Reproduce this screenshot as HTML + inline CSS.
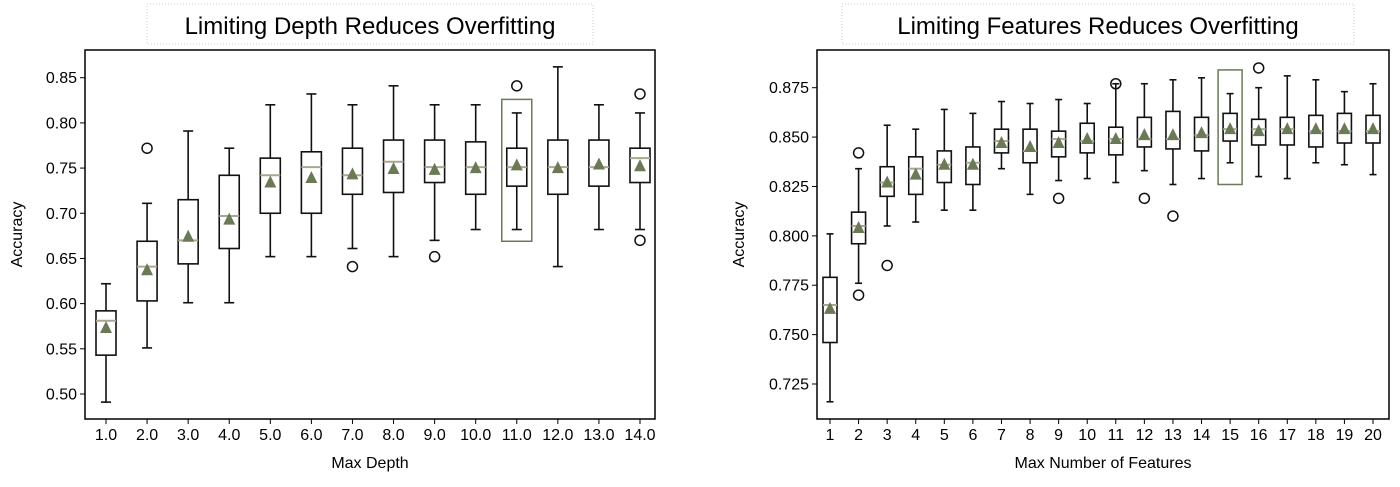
<!DOCTYPE html>
<html><head><meta charset="utf-8"><style>
body{margin:0;background:#fff;width:1400px;height:482px;overflow:hidden;font-family:"Liberation Sans",sans-serif}
svg text{font-family:"Liberation Sans",sans-serif;fill:#000}
</style></head><body>
<svg id="chart" width="1400" height="482" viewBox="0 0 1400 482" xmlns="http://www.w3.org/2000/svg"></svg>
<script>
// Left chart data: [whiskerHigh, q3, median, q1, whiskerLow]
const depthCategories=["1.0","2.0","3.0","4.0","5.0","6.0","7.0","8.0","9.0","10.0","11.0","12.0","13.0","14.0"];
const depthStats=[[0.622,0.592,0.581,0.543,0.491],[0.711,0.669,0.641,0.603,0.551],[0.791,0.715,0.670,0.644,0.601],[0.772,0.742,0.697,0.661,0.601],[0.820,0.761,0.742,0.700,0.652],[0.832,0.768,0.751,0.700,0.652],[0.820,0.772,0.742,0.721,0.661],[0.841,0.781,0.757,0.723,0.652],[0.820,0.781,0.751,0.734,0.670],[0.820,0.779,0.751,0.721,0.682],[0.811,0.772,0.751,0.730,0.682],[0.862,0.781,0.751,0.721,0.641],[0.820,0.781,0.751,0.730,0.682],[0.811,0.772,0.761,0.734,0.682]];
const depthMeans=[0.573,0.637,0.674,0.693,0.734,0.739,0.743,0.749,0.748,0.750,0.753,0.750,0.754,0.752];
const depthOutliers=[[],[0.772],[],[],[],[],[0.641],[],[0.652],[],[0.841],[],[],[0.832,0.670]];
const depthTicks=[0.50,0.55,0.60,0.65,0.70,0.75,0.80,0.85];
const depthBest=10; const depthBestRange=[0.826,0.669];
// Right chart data
const featCategories=["1","2","3","4","5","6","7","8","9","10","11","12","13","14","15","16","17","18","19","20"];
const featStats=[[0.801,0.779,0.765,0.746,0.716],[0.834,0.812,0.805,0.796,0.776],[0.856,0.835,0.827,0.820,0.805],[0.854,0.840,0.834,0.821,0.807],[0.864,0.843,0.836,0.827,0.813],[0.862,0.845,0.837,0.826,0.813],[0.868,0.854,0.848,0.842,0.834],[0.867,0.854,0.843,0.837,0.821],[0.869,0.853,0.849,0.840,0.828],[0.867,0.857,0.848,0.842,0.829],[0.877,0.855,0.849,0.841,0.827],[0.877,0.860,0.849,0.845,0.833],[0.879,0.863,0.849,0.844,0.826],[0.880,0.860,0.851,0.843,0.829],[0.872,0.862,0.854,0.848,0.837],[0.875,0.859,0.854,0.846,0.830],[0.881,0.860,0.854,0.846,0.829],[0.879,0.861,0.853,0.845,0.837],[0.873,0.862,0.853,0.847,0.836],[0.877,0.861,0.853,0.847,0.831]];
const featMeans=[0.763,0.804,0.827,0.831,0.836,0.836,0.847,0.845,0.847,0.849,0.849,0.851,0.851,0.852,0.854,0.853,0.854,0.854,0.854,0.854];
const featOutliers=[[],[0.842,0.770],[0.785],[],[],[],[],[],[0.819],[],[0.877],[0.819],[0.810],[],[],[0.885],[],[],[],[]];
const featTicks=[0.725,0.750,0.775,0.800,0.825,0.850,0.875];
const featBest=14; const featBestRange=[0.884,0.826];

const NS="http://www.w3.org/2000/svg";
const svg=document.getElementById('chart');
function mk(tag,attrs,parent,text){const e=document.createElementNS(NS,tag);for(const k in attrs)e.setAttribute(k,attrs[k]);if(text!==undefined)e.textContent=text;(parent||svg).appendChild(e);return e;}

function drawPanel(cfg){
  const g=mk('g',{});
  
  
  const n=cfg.cats.length;
  const xs=i=>cfg.x0+(cfg.x1-cfg.x0)*i/(n-1);
  const ys=v=>cfg.yA+(v-cfg.vA)*(cfg.yB-cfg.yA)/(cfg.vB-cfg.vA);
  const tb=mk('rect',{x:cfg.cx-cfg.tw/2,y:4,width:cfg.tw,height:40,fill:'none',stroke:'#ccc','stroke-dasharray':'1,2'},g);
  
  
  const t=mk('text',{x:cfg.cx,y:34,'text-anchor':'middle','font-size':'24'},g,cfg.title);
  
  
  const fr=mk('rect',{x:cfg.fx0,y:cfg.fy0,width:cfg.fx1-cfg.fx0,height:cfg.fy1-cfg.fy0,fill:'none',stroke:'#000','stroke-width':1.5},g);
  
  
  cfg.ticks.forEach(v=>{
    const y=ys(v);
    mk('line',{x1:cfg.fx0-5,x2:cfg.fx0,y1:y,y2:y,stroke:'#000'},g);
    const tl=mk('text',{x:cfg.fx0-8,y:y+5.5,'text-anchor':'end','font-size':'16'},g,v.toFixed(cfg.dec));
    
    
  });
  const yl=mk('text',{x:0,y:0,'text-anchor':'middle','font-size':'16',transform:`translate(${cfg.ylx},${(cfg.fy0+cfg.fy1)/2}) rotate(-90)`},g,'Accuracy');
  
  
  const xl=mk('text',{x:(cfg.fx0+cfg.fx1)/2,y:468,'text-anchor':'middle','font-size':'16'},g,cfg.xlabel);
  
  
  const hx=xs(cfg.best);
  const hr=mk('rect',{x:hx-cfg.bw/2-5,y:ys(cfg.bestRange[0]),width:cfg.bw+10,height:ys(cfg.bestRange[1])-ys(cfg.bestRange[0]),fill:'none',stroke:'#6b7a56','stroke-width':1.5},g);
  
  
  cfg.cats.forEach((c,i)=>{
    const x=xs(i),s=cfg.stats[i],hw=cfg.bw/2;
    mk('line',{x1:x,x2:x,y1:cfg.fy1,y2:cfg.fy1+5,stroke:'#000'},g);
    const xt=mk('text',{x:x,y:cfg.fy1+21,'text-anchor':'middle','font-size':'16'},g,c);
    
    
    const bg=mk('g',{stroke:'#111','stroke-width':1.6,fill:'none'},g);
    
    
    mk('line',{x1:x,x2:x,y1:ys(s[0]),y2:ys(s[1])},bg);
    mk('line',{x1:x,x2:x,y1:ys(s[3]),y2:ys(s[4])},bg);
    mk('line',{x1:x-hw/2,x2:x+hw/2,y1:ys(s[0]),y2:ys(s[0])},bg);
    mk('line',{x1:x-hw/2,x2:x+hw/2,y1:ys(s[4]),y2:ys(s[4])},bg);
    mk('rect',{x:x-hw,y:ys(s[1]),width:cfg.bw,height:ys(s[3])-ys(s[1])},bg);
    mk('line',{x1:x-hw,x2:x+hw,y1:ys(s[2]),y2:ys(s[2]),stroke:'#a9a78f','stroke-width':2},bg);
    const my=ys(cfg.means[i]);
    const tri=mk('polygon',{points:`${x},${my-7} ${x-6},${my+5} ${x+6},${my+5}`,fill:'#6b7a56',stroke:'none'},g);
    
    
    cfg.outliers[i].forEach(v=>{
      const o=mk('circle',{cx:x,cy:ys(v),r:5,fill:'none',stroke:'#111','stroke-width':1.5},g);
      
      
    });
  });
}
drawPanel({name:'depth-chart',cats:depthCategories,stats:depthStats,means:depthMeans,outliers:depthOutliers,ticks:depthTicks,dec:2,best:depthBest,bestRange:depthBestRange,
  x0:106,x1:640,yA:77.7,vA:0.85,yB:394,vB:0.50,fx0:85,fx1:655,fy0:50,fy1:419,bw:20,cx:370,tw:446,ylx:22,title:'Limiting Depth Reduces Overfitting',xlabel:'Max Depth'});
drawPanel({name:'features-chart',cats:featCategories,stats:featStats,means:featMeans,outliers:featOutliers,ticks:featTicks,dec:3,best:featBest,bestRange:featBestRange,
  x0:830,x1:1373,yA:87.7,vA:0.875,yB:384,vB:0.725,fx0:817,fx1:1389,fy0:50,fy1:419,bw:14,cx:1098,tw:512,ylx:744,title:'Limiting Features Reduces Overfitting',xlabel:'Max Number of Features'});
</script>
</body></html>
